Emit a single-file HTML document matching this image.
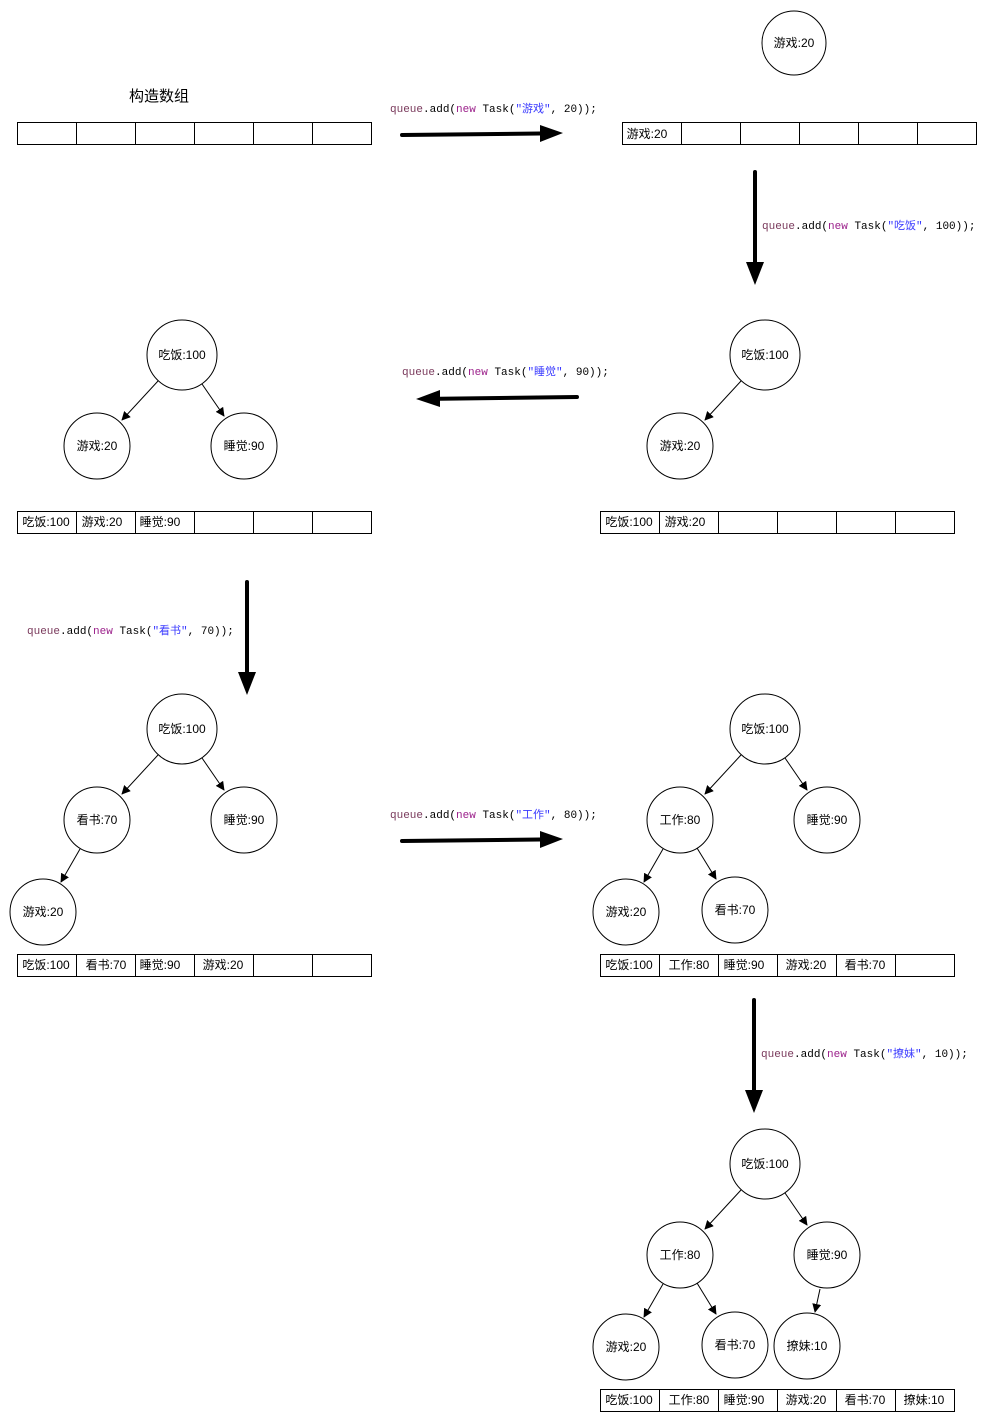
<!DOCTYPE html>
<html><head><meta charset="utf-8"><style>
html,body{margin:0;padding:0;background:#fff;}
svg{display:block}
.t{font-family:"Liberation Sans","Noto Sans CJK SC",sans-serif;font-size:12px;fill:#000}
.c{font-family:"Liberation Mono","Noto Sans CJK SC",monospace;font-size:11px;fill:#000}
.q{fill:#7a3a5c}.n{fill:#9b1f8a}.s{fill:#3a3aff}
</style></head><body>
<svg width="990" height="1422" viewBox="0 0 990 1422" xmlns="http://www.w3.org/2000/svg">
<defs>
<marker id="a" viewBox="0 0 10 10" refX="9" refY="5" markerWidth="9" markerHeight="9" markerUnits="userSpaceOnUse" orient="auto"><path d="M0,0 L10,5 L0,10 z" fill="#000"/></marker>
</defs>
<g fill="none" stroke="#000" stroke-width="1">
<!-- arrays -->
<rect x="17.5" y="122.5" width="354" height="22"/><path d="M76.5 122v23M135.5 122v23M194.5 122v23M253.5 122v23M312.5 122v23"/>
<rect x="622.5" y="122.5" width="354" height="22"/><path d="M681.5 122v23M740.5 122v23M799.5 122v23M858.5 122v23M917.5 122v23"/>
<rect x="17.5" y="511.5" width="354" height="22"/><path d="M76.5 511v23M135.5 511v23M194.5 511v23M253.5 511v23M312.5 511v23"/>
<rect x="600.5" y="511.5" width="354" height="22"/><path d="M659.5 511v23M718.5 511v23M777.5 511v23M836.5 511v23M895.5 511v23"/>
<rect x="17.5" y="954.5" width="354" height="22"/><path d="M76.5 954v23M135.5 954v23M194.5 954v23M253.5 954v23M312.5 954v23"/>
<rect x="600.5" y="954.5" width="354" height="22"/><path d="M659.5 954v23M718.5 954v23M777.5 954v23M836.5 954v23M895.5 954v23"/>
<rect x="600.5" y="1389.5" width="354" height="22"/><path d="M659.5 1389v23M718.5 1389v23M777.5 1389v23M836.5 1389v23M895.5 1389v23"/>
<!-- circles -->
<circle cx="794" cy="43" r="32"/>
<circle cx="765" cy="355" r="35"/><circle cx="680" cy="446" r="33"/>
<circle cx="182" cy="355" r="35"/><circle cx="97" cy="446" r="33"/><circle cx="244" cy="446" r="33"/>
<circle cx="182" cy="729" r="35"/><circle cx="97" cy="820" r="33"/><circle cx="244" cy="820" r="33"/><circle cx="43" cy="912" r="33"/>
<circle cx="765" cy="729" r="35"/><circle cx="680" cy="820" r="33"/><circle cx="827" cy="820" r="33"/><circle cx="626" cy="912" r="33"/><circle cx="735" cy="910" r="33"/>
<circle cx="765" cy="1164" r="35"/><circle cx="680" cy="1255" r="33"/><circle cx="827" cy="1255" r="33"/><circle cx="626" cy="1347" r="33"/><circle cx="735" cy="1345" r="33"/><circle cx="807" cy="1346" r="33"/>
</g>
<g stroke="#000" stroke-width="1" marker-end="url(#a)">
<line x1="741" y1="381" x2="705" y2="420"/>
<line x1="158" y1="381" x2="122" y2="420"/><line x1="202" y1="384" x2="224" y2="416"/>
<line x1="158" y1="755" x2="122" y2="794"/><line x1="202" y1="758" x2="224" y2="790"/><line x1="80" y1="849" x2="61" y2="882"/>
<line x1="741" y1="755" x2="705" y2="794"/><line x1="785" y1="758" x2="807" y2="790"/><line x1="663" y1="849" x2="644" y2="882"/><line x1="697" y1="848" x2="716" y2="879"/>
<line x1="741" y1="1190" x2="705" y2="1229"/><line x1="785" y1="1193" x2="807" y2="1225"/><line x1="663" y1="1284" x2="644" y2="1317"/><line x1="697" y1="1283" x2="716" y2="1314"/><line x1="820" y1="1289" x2="815" y2="1312"/>
</g>
<!-- thick arrows -->
<g stroke="#000" stroke-width="4" stroke-linecap="round" fill="none">
<path d="M402 135 L540 133.5"/><path d="M755 172 L755 262"/><path d="M577 397 L440 398.7"/><path d="M247 582 L247 672"/><path d="M402 841 L540 839.5"/><path d="M754 1000 L754 1090"/>
</g>
<g fill="#000">
<path d="M563 133 L540 125 L540 142 z"/><path d="M755 285 L746 262 L764 262 z"/><path d="M416 399 L440 390 L440 407 z"/><path d="M247 695 L238 672 L256 672 z"/><path d="M563 839 L540 831 L540 848 z"/><path d="M754 1113 L745 1090 L763 1090 z"/>
</g>
<!-- texts -->
<text class="t" x="159" y="101" text-anchor="middle" style="font-size:15px">构造数组</text>
<g class="c">
<text x="390" y="112"><tspan class="q">queue</tspan>.add(<tspan class="n">new</tspan> Task(<tspan class="s">"游戏"</tspan>, 20));</text>
<text x="762" y="229"><tspan class="q">queue</tspan>.add(<tspan class="n">new</tspan> Task(<tspan class="s">"吃饭"</tspan>, 100));</text>
<text x="402" y="375"><tspan class="q">queue</tspan>.add(<tspan class="n">new</tspan> Task(<tspan class="s">"睡觉"</tspan>, 90));</text>
<text x="27" y="634"><tspan class="q">queue</tspan>.add(<tspan class="n">new</tspan> Task(<tspan class="s">"看书"</tspan>, 70));</text>
<text x="390" y="818"><tspan class="q">queue</tspan>.add(<tspan class="n">new</tspan> Task(<tspan class="s">"工作"</tspan>, 80));</text>
<text x="761" y="1057"><tspan class="q">queue</tspan>.add(<tspan class="n">new</tspan> Task(<tspan class="s">"撩妹"</tspan>, 10));</text>
</g>
<g class="t" text-anchor="middle">
<text x="794" y="47">游戏:20</text>
<text x="765" y="359">吃饭:100</text><text x="680" y="450">游戏:20</text>
<text x="182" y="359">吃饭:100</text><text x="97" y="450">游戏:20</text><text x="244" y="450">睡觉:90</text>
<text x="182" y="733">吃饭:100</text><text x="97" y="824">看书:70</text><text x="244" y="824">睡觉:90</text><text x="43" y="916">游戏:20</text>
<text x="765" y="733">吃饭:100</text><text x="680" y="824">工作:80</text><text x="827" y="824">睡觉:90</text><text x="626" y="916">游戏:20</text><text x="735" y="914">看书:70</text>
<text x="765" y="1168">吃饭:100</text><text x="680" y="1259">工作:80</text><text x="827" y="1259">睡觉:90</text><text x="626" y="1351">游戏:20</text><text x="735" y="1349">看书:70</text><text x="807" y="1350">撩妹:10</text>
<!-- array cells -->
<text x="647" y="138">游戏:20</text>
<text x="46" y="526">吃饭:100</text><text x="102" y="526">游戏:20</text><text x="160" y="526">睡觉:90</text>
<text x="629" y="526">吃饭:100</text><text x="685" y="526">游戏:20</text>
<text x="46" y="969">吃饭:100</text><text x="106" y="969">看书:70</text><text x="160" y="969">睡觉:90</text><text x="223" y="969">游戏:20</text>
<text x="629" y="969">吃饭:100</text><text x="689" y="969">工作:80</text><text x="744" y="969">睡觉:90</text><text x="806" y="969">游戏:20</text><text x="865" y="969">看书:70</text>
<text x="629" y="1404">吃饭:100</text><text x="689" y="1404">工作:80</text><text x="744" y="1404">睡觉:90</text><text x="806" y="1404">游戏:20</text><text x="865" y="1404">看书:70</text><text x="924" y="1404">撩妹:10</text>
</g>
</svg>
</body></html>
